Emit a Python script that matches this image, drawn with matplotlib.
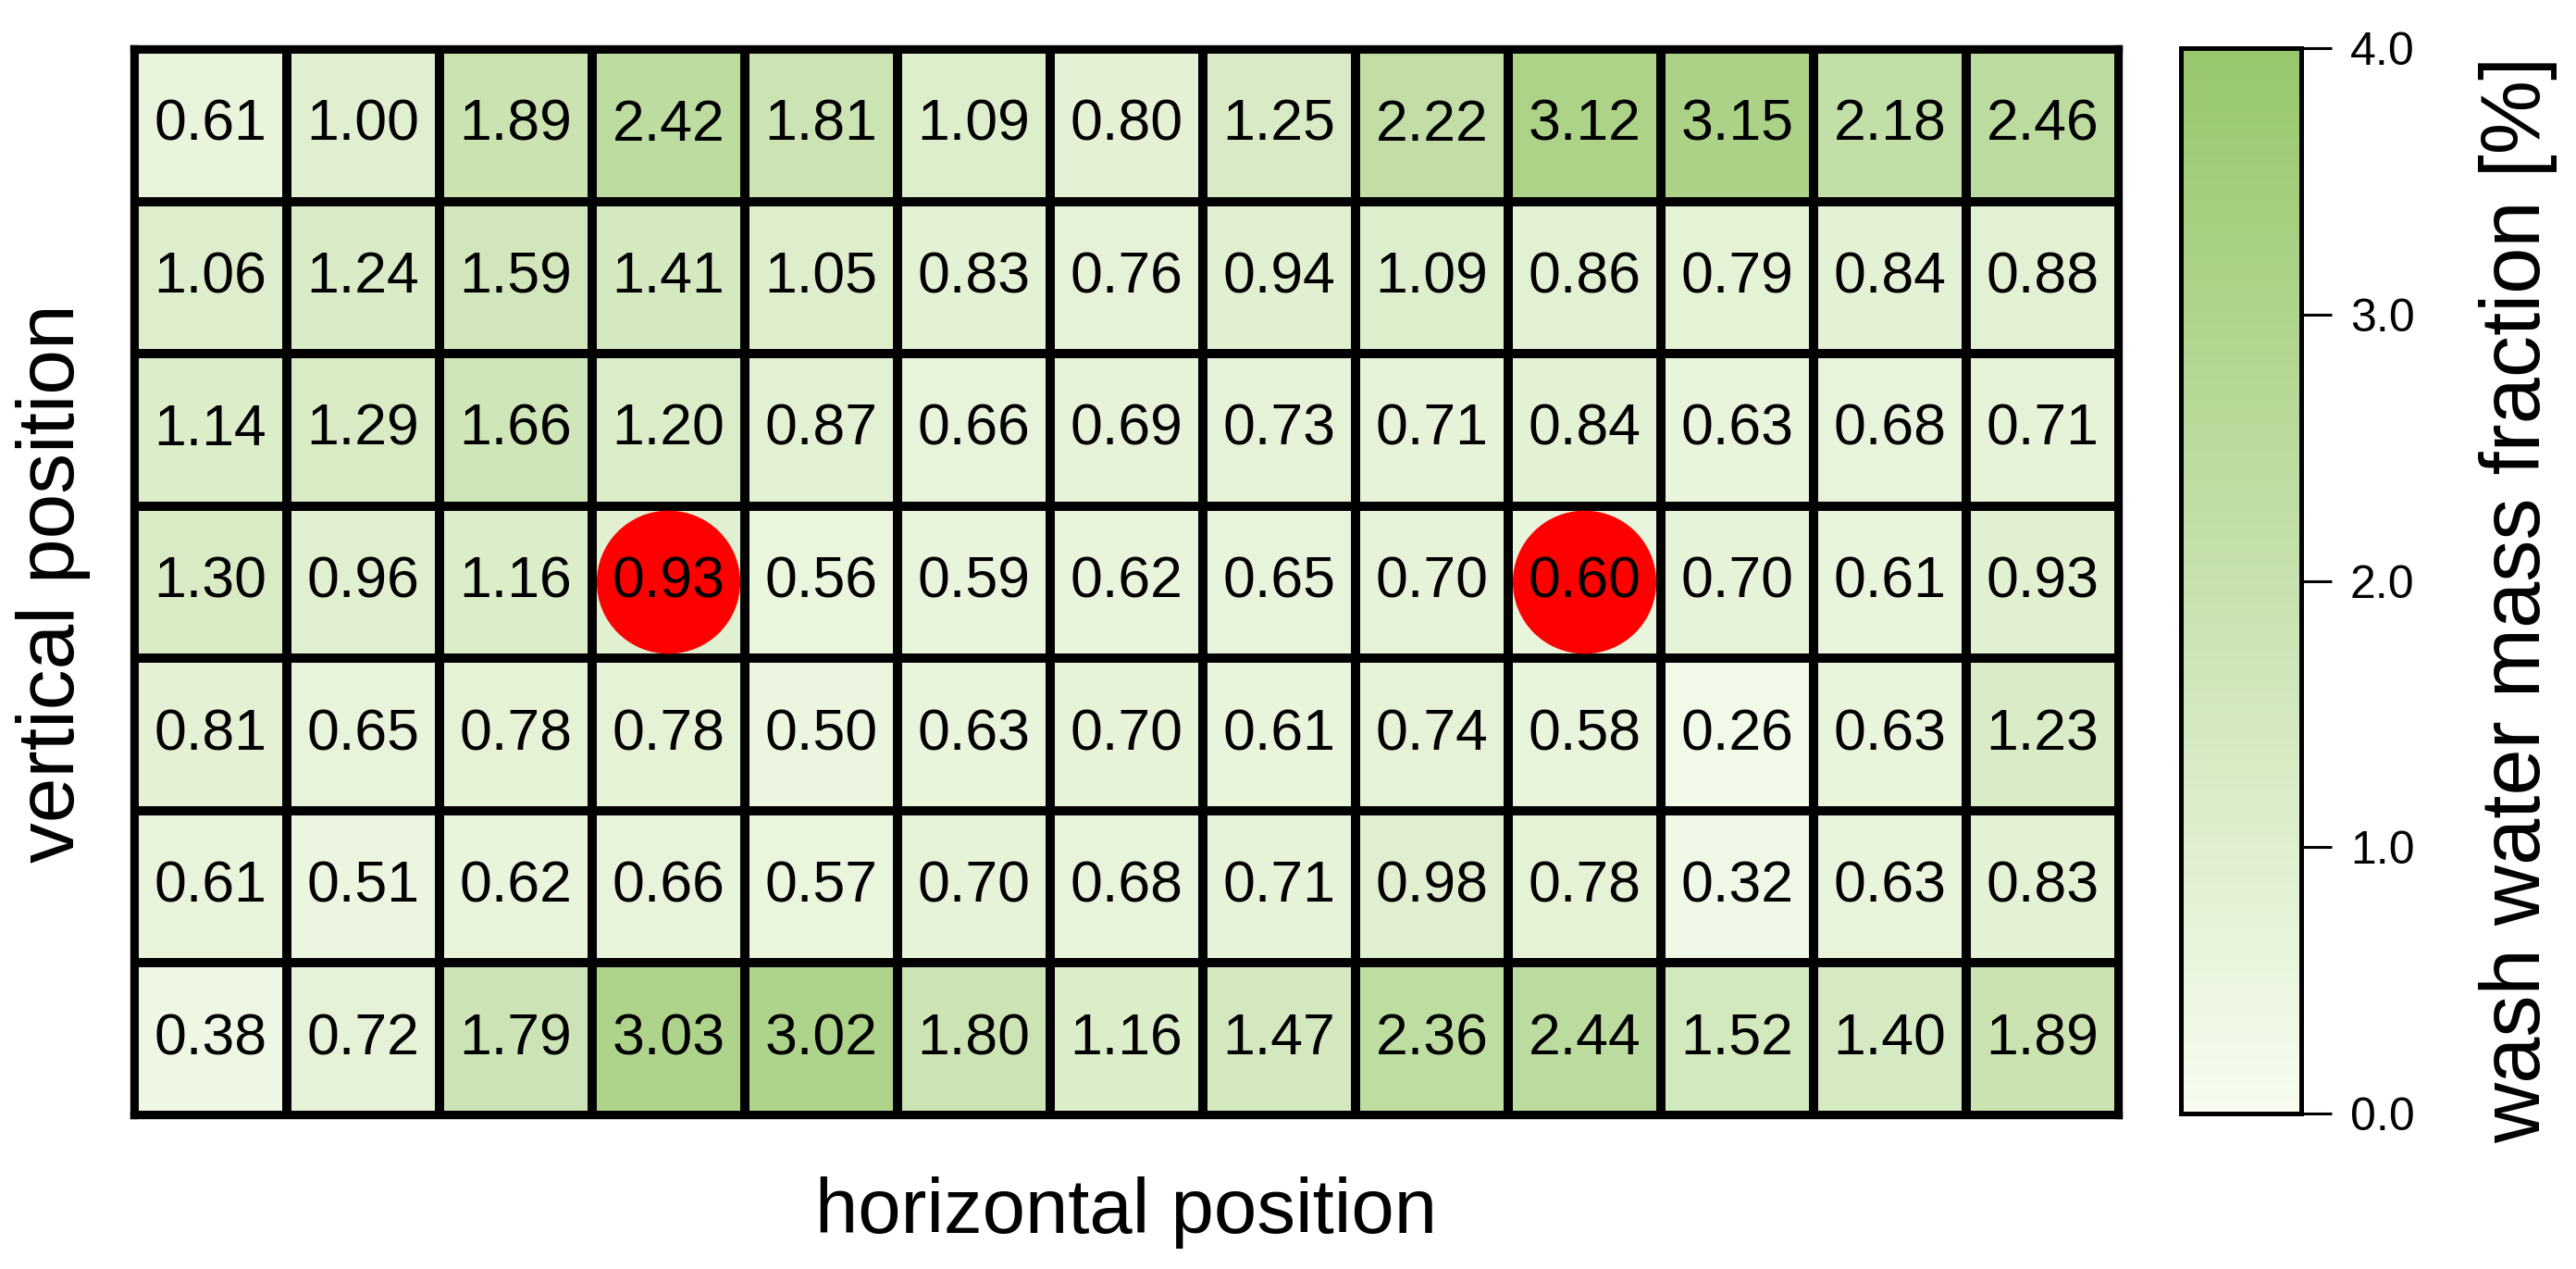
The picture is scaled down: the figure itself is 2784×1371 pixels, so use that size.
import numpy as np
import matplotlib
matplotlib.use("Agg")
import matplotlib.pyplot as plt
from matplotlib.colors import LinearSegmentedColormap
from matplotlib.patches import Circle

plt.rcParams['font.family'] = ['Liberation Sans', 'DejaVu Sans']

# wash water mass fraction [%], rows top -> bottom, columns left -> right
row1 = [0.61, 1.00, 1.89, 2.42, 1.81, 1.09, 0.80, 1.25, 2.22, 3.12, 3.15, 2.18, 2.46]
row2 = [1.06, 1.24, 1.59, 1.41, 1.05, 0.83, 0.76, 0.94, 1.09, 0.86, 0.79, 0.84, 0.88]
row3 = [1.14, 1.29, 1.66, 1.20, 0.87, 0.66, 0.69, 0.73, 0.71, 0.84, 0.63, 0.68, 0.71]
row4 = [1.30, 0.96, 1.16, 0.93, 0.56, 0.59, 0.62, 0.65, 0.70, 0.60, 0.70, 0.61, 0.93]
row5 = [0.81, 0.65, 0.78, 0.78, 0.50, 0.63, 0.70, 0.61, 0.74, 0.58, 0.26, 0.63, 1.23]
row6 = [0.61, 0.51, 0.62, 0.66, 0.57, 0.70, 0.68, 0.71, 0.98, 0.78, 0.32, 0.63, 0.83]
row7 = [0.38, 0.72, 1.79, 3.03, 3.02, 1.80, 1.16, 1.47, 2.36, 2.44, 1.52, 1.40, 1.89]

# highlighted cells (row, col)
marked_cells = [(3, 3), (3, 9)]

cbar_ticks = [0.0, 1.0, 2.0, 3.0, 4.0]

data = np.array([row1, row2, row3, row4, row5, row6, row7])
nrows, ncols = data.shape

cmap = LinearSegmentedColormap.from_list("wash", ["#f7fcf0", "#97c76b"])

W, H = 2784, 1371
fig = plt.figure(figsize=(W / 100, H / 100), dpi=100)
ax = fig.add_axes([145 / W, 1 - 1205 / H, (2290 - 145) / W, (1205 - 53) / H])
cax = fig.add_axes([2357 / W, 1 - 1203 / H, (2487 - 2357) / W, (1203 - 52) / H])

mesh = ax.pcolormesh(np.arange(ncols + 1), np.arange(nrows + 1), data,
                     cmap=cmap, vmin=0, vmax=4, edgecolors='black', linewidth=5.8)
ax.set_xlim(0, ncols)
ax.set_ylim(nrows, 0)
ax.set_xticks([])
ax.set_yticks([])
for s in ax.spines.values():
    s.set_linewidth(6)

for (r, c) in marked_cells:
    ax.add_patch(Circle((c + 0.5, r + 0.5), 0.47, color='red', zorder=3, lw=0))

for r in range(nrows):
    for c in range(ncols):
        ax.text(c + 0.5, r + 0.5, f"{data[r, c]:.2f}", ha='center', va='center',
                fontsize=45, color='black', zorder=4)

cb = fig.colorbar(mesh, cax=cax)
cb.set_ticks(cbar_ticks)
cb.set_ticklabels([f"{t:.1f}" for t in cbar_ticks])
cb.outline.set_linewidth(3.6)
cax.tick_params(length=24, width=2.2, labelsize=36, pad=14)

fig.text(58 / W, 1 - 630 / H, "vertical position", rotation=90,
         ha='center', va='center', fontsize=63)
fig.text(1217 / W, 1 - 1310 / H, "horizontal position",
         ha='center', va='center', fontsize=60)
fig.text(2722 / W, 1 - 648 / H, "wash water mass fraction [%]", rotation=90,
         ha='center', va='center', fontsize=65)

fig.savefig("out.png", dpi=100)
